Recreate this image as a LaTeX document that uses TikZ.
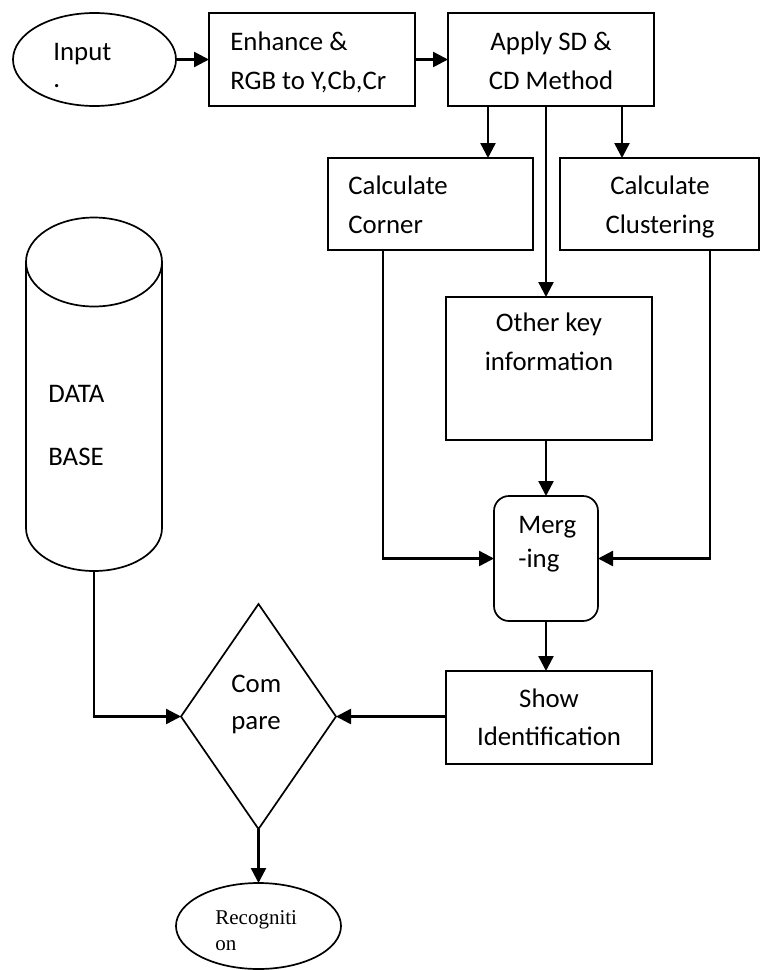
\documentclass[tikz,border=0pt]{standalone}
\usepackage{fontspec}
\setmainfont{Carlito}
\newfontfamily\serifrec{Liberation Serif}
\usetikzlibrary{arrows.meta,shapes.geometric}
\begin{document}
\begin{tikzpicture}[x=0.5pt,y=-0.5pt,
  shapebox/.style={draw, line width=0.85pt, inner sep=0pt, outer sep=0pt},
  rectbox/.style={shapebox, rectangle},
  conn/.style={line width=1.2pt, -{Triangle[length=7.5pt,width=7.5pt]}},
  txt/.style={inner sep=0pt, font=\fontsize{13.4}{19.5}\selectfont},
]
\fill[white] (0,0) rectangle (761,970);
\useasboundingbox (0,0) rectangle (761,970);

% shapes
\node[shapebox, ellipse, minimum width=81.5pt, minimum height=46.5pt] (input) at (94.5,59.5) {};
\node[rectbox, minimum width=103pt, minimum height=46.5pt] (enh) at (312,59.5) {};
\node[rectbox, minimum width=103pt, minimum height=46.5pt] (apply) at (551,59.5) {};
\node[rectbox, minimum width=102.5pt, minimum height=46pt] (corner) at (430.5,204) {};
\node[rectbox, minimum width=99.5pt, minimum height=46pt] (clust) at (659.5,204) {};
\node[rectbox, minimum width=103pt, minimum height=71.5pt] (other) at (549,368.5) {};
\node[rectbox, rounded corners=7.5pt, minimum width=52pt, minimum height=62.5pt] (merge) at (546,558.5) {};
\node[rectbox, minimum width=103pt, minimum height=46.5pt] (show) at (549,717.5) {};
\node[shapebox, diamond, minimum width=77.5pt, minimum height=112.5pt] (comp) at (258.5,716.5) {};
\node[shapebox, ellipse, minimum width=82.5pt, minimum height=43pt] (rec) at (258.5,926) {};

% database cylinder
\draw[line width=0.85pt] (26,262) -- (26,528)
  arc[start angle=180, end angle=360, x radius=34pt, y radius=21.5pt] -- (162,262);
\draw[line width=0.85pt] (94,262) ellipse[x radius=34pt, y radius=22.25pt];
\coordinate (dbb) at (94,571.5);

% connectors
\draw[conn] (input) -- (enh);
\draw[conn] (enh) -- (apply);
\draw[conn] ([xshift=20pt]apply.south west) -- ([xshift=20pt]apply.south west |- corner.north);
\draw[conn] (apply.south -| merge) -- (other.north -| merge);
\draw[conn] ([xshift=87pt]apply.south west) -- ([xshift=87pt]apply.south west |- clust.north);
\draw[conn] ([xshift=27.5pt]corner.south west) |- (merge.west);
\draw[conn] ([xshift=75pt]clust.south west) |- (merge.east);
\draw[conn] (other.south -| merge) -- (merge.north);
\draw[conn] (merge.south) -- (show.north -| merge);
\draw[conn] (show.west |- comp.east) -- (comp.east);
\draw[conn] (dbb) |- (comp.west);
\draw[conn] (comp.south) -- (rec.north);

% texts (anchor = baseline of the last line)
\node[txt, anchor=base west, align=left, font=\fontsize{13.4}{13.5}\selectfont] (input-t) at (53,87) {Input\\.};
\node[txt, anchor=base west, align=left] (enh-t) at (230,89) {Enhance \&\\RGB to Y,Cb,Cr};
\node[txt, anchor=base, align=center] (apply-t) at (551,89) {Apply SD \&\\CD Method};
\node[txt, anchor=base west, align=left] (corner-t) at (348,233) {Calculate\\Corner};
\node[txt, anchor=base, align=center] (clust-t) at (660,233) {Calculate\\Clustering};
\node[txt, anchor=base, align=center] (other-t) at (549,370) {Other key\\information};
\node[txt, anchor=base west, align=left, font=\fontsize{13.4}{17}\selectfont] (merge-t) at (518,567) {Merg\\-ing};
\node[txt, anchor=base, align=center, font=\fontsize{13.4}{19}\selectfont] (show-t) at (549,745) {Show\\Identification};
\node[txt, anchor=base west, align=left, font=\fontsize{13.4}{18.5}\selectfont] (comp-t) at (231,729) {Com\\pare};
\node[txt, anchor=base west, align=left, font=\fontsize{13.4}{31.5}\selectfont] (db-t) at (48,465) {DATA\\BASE};
\node[txt, anchor=base west, align=left, font=\serifrec\fontsize{10.5}{13}\selectfont] (rec-t) at (215,950) {Recogniti\\on};
\end{tikzpicture}
\end{document}
